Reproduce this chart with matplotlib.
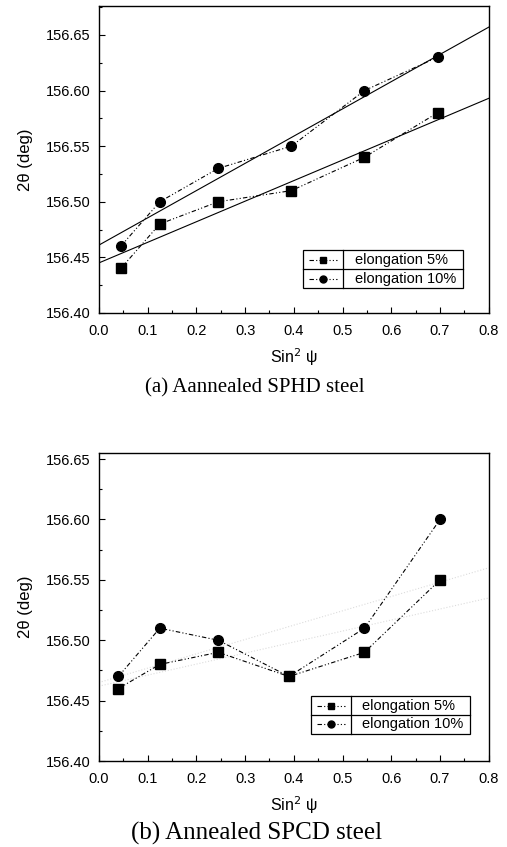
import numpy as np
import matplotlib
matplotlib.use('Agg')
import matplotlib.pyplot as plt
from matplotlib.lines import Line2D
from matplotlib.patches import Rectangle
from matplotlib.ticker import MultipleLocator, FormatStrFormatter

plt.rcParams['font.family'] = ['Liberation Sans', 'DejaVu Sans']

# === data ===
x_a = [0.045, 0.125, 0.245, 0.395, 0.545, 0.695]
e5_a = [156.44, 156.48, 156.50, 156.51, 156.54, 156.58]
e10_a = [156.46, 156.50, 156.53, 156.55, 156.60, 156.63]
# linear fits drawn in (a): (value at x=0, value at x=0.8)
fit5_a = [156.445, 156.593]
fit10_a = [156.461, 156.657]

x_b = [0.04, 0.125, 0.245, 0.39, 0.545, 0.70]
e5_b = [156.46, 156.48, 156.49, 156.47, 156.49, 156.55]
e10_b = [156.47, 156.51, 156.50, 156.47, 156.51, 156.60]
# faint fits in (b)
fit5_b = [156.462, 156.535]
fit10_b = [156.465, 156.560]

fit_x = [0.0, 0.8]
legend_labels = ['elongation 5%', 'elongation 10%']
captions = ['(a) Aannealed SPHD steel', '(b) Annealed SPCD steel']

dashdot = (0, (4, 2, 1, 2, 1, 2))

fig = plt.figure(figsize=(5.07, 8.47), dpi=100)
ax_a = fig.add_axes([0.195, 0.6305, 0.769, 0.3624])
ax_b = fig.add_axes([0.195, 0.1015, 0.769, 0.3636])


def style_axes(ax, ytop):
    ax.set_xlim(0, 0.8)
    ax.set_ylim(156.40, ytop)
    ax.xaxis.set_major_locator(MultipleLocator(0.1))
    ax.xaxis.set_minor_locator(MultipleLocator(0.05))
    ax.yaxis.set_major_locator(MultipleLocator(0.05))
    ax.yaxis.set_minor_locator(MultipleLocator(0.025))
    ax.xaxis.set_major_formatter(FormatStrFormatter('%.1f'))
    ax.yaxis.set_major_formatter(FormatStrFormatter('%.2f'))
    ax.tick_params(which='both', direction='in', top=False, right=False,
                   labelsize=10.5, width=0.8)
    ax.tick_params(which='major', length=4)
    ax.tick_params(axis='x', which='major', pad=8)
    ax.tick_params(axis='y', which='major', pad=6)
    ax.tick_params(which='minor', length=2)
    for s in ax.spines.values():
        s.set_linewidth(1.0)
    ax.set_xlabel('Sin$^2$ ψ', fontsize=11.5, labelpad=6)
    ax.set_ylabel('2θ (deg)', fontsize=12, labelpad=9)


def table_legend(ax, x0, x1, xdiv, y0, y1):
    ax.add_patch(Rectangle((x0, y0), x1 - x0, y1 - y0, transform=ax.transAxes,
                           fill=False, lw=0.9, ec='black', zorder=5))
    ym = (y0 + y1) / 2
    ax.add_line(Line2D([x0, x1], [ym, ym], transform=ax.transAxes, lw=0.9, color='black', zorder=5))
    ax.add_line(Line2D([xdiv, xdiv], [y0, y1], transform=ax.transAxes, lw=0.9, color='black', zorder=5))
    rows = [(y1 + ym) / 2, (ym + y0) / 2]
    for yy, mk, lab in zip(rows, ['s', 'o'], legend_labels):
        ax.add_line(Line2D([x0 + 0.015, xdiv - 0.015], [yy, yy], transform=ax.transAxes,
                           lw=0.8, color='black', linestyle=dashdot, zorder=6))
        ax.add_line(Line2D([(x0 + xdiv) / 2], [yy], transform=ax.transAxes, marker=mk,
                           markersize=5, color='black', zorder=6))
        ax.text(xdiv + 0.03, yy, lab, transform=ax.transAxes, fontsize=10.5,
                va='center', ha='left', zorder=6)


# (a)
style_axes(ax_a, 156.676)
ax_a.plot(fit_x, fit5_a, color='black', lw=0.8)
ax_a.plot(fit_x, fit10_a, color='black', lw=0.8)
ax_a.plot(x_a, e5_a, color='black', lw=0.8, linestyle=dashdot, marker='s', markersize=6.5)
ax_a.plot(x_a, e10_a, color='black', lw=0.8, linestyle=dashdot, marker='o', markersize=7)
table_legend(ax_a, 0.523, 0.933, 0.626, 0.081, 0.205)

# (b)
style_axes(ax_b, 156.655)
ax_b.plot(fit_x, fit5_b, color='#dcdcdc', lw=0.8, linestyle=':')
ax_b.plot(fit_x, fit10_b, color='#dcdcdc', lw=0.8, linestyle=':')
ax_b.plot(x_b, e5_b, color='black', lw=0.8, linestyle=dashdot, marker='s', markersize=6.5)
ax_b.plot(x_b, e10_b, color='black', lw=0.8, linestyle=dashdot, marker='o', markersize=7)
table_legend(ax_b, 0.544, 0.951, 0.646, 0.088, 0.211)

fig.text(0.503, 1 - 388 / 847, captions[0], family=['Liberation Serif', 'DejaVu Serif'],
         fontsize=15, ha='center', va='center')
fig.text(0.507, 1 - 833 / 847, captions[1], family=['Liberation Serif', 'DejaVu Serif'],
         fontsize=18, ha='center', va='center')

fig.savefig('out.png', dpi=100)
